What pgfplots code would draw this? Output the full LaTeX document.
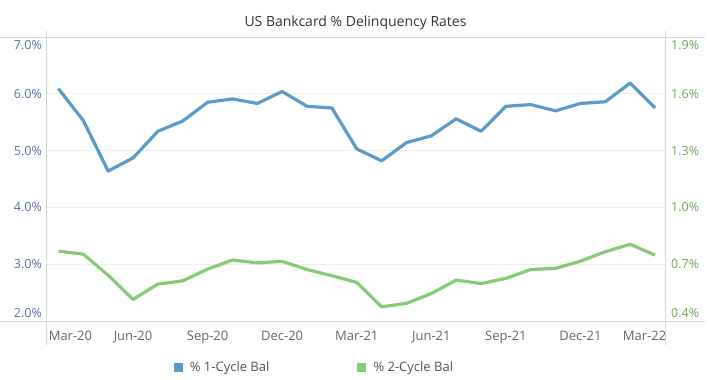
\documentclass[border=0pt]{standalone}
\usepackage{fontspec}
\setmainfont{Open Sans}
\usepackage{pgfplots}
\usepackage{pgfplotstable}
\pgfplotsset{compat=1.18}
\definecolor{oneC}{HTML}{5B9BC8}
\definecolor{twoC}{HTML}{86CC78}
\definecolor{leftT}{HTML}{5A6FA6}
\definecolor{rightT}{HTML}{6AA55A}
\definecolor{gridc}{HTML}{EDEDED}
\definecolor{axc}{HTML}{D6D6D6}
\definecolor{titc}{HTML}{333333}
\definecolor{tickc}{HTML}{666666}

\pgfplotstableread{
i one two
0 6.09 0.769
1 5.53 0.753
2 4.64 0.642
3 4.87 0.514
4 5.34 0.595
5 5.52 0.612
6 5.85 0.674
7 5.91 0.722
8 5.83 0.707
9 6.04 0.715
10 5.78 0.672
11 5.75 0.639
12 5.03 0.604
13 4.82 0.475
14 5.14 0.493
15 5.26 0.545
16 5.56 0.616
17 5.34 0.598
18 5.78 0.625
19 5.81 0.672
20 5.70 0.678
21 5.83 0.716
22 5.86 0.766
23 6.19 0.805
24 5.75 0.748
}\data

\begin{document}
\begin{tikzpicture}
\path[use as bounding box] (-46pt,-59pt) rectangle (664pt,321pt);
\pgfplotsset{
  common/.style={
    scale only axis, width=619pt, height=284pt,
    at={(0pt,0pt)}, anchor=south west,
    xmin=-0.5, xmax=24.4,
    major tick length=0pt,
    clip=false,
  }
}
\begin{axis}[common,
  ymin=2, ymax=7,
  axis line style={draw=none},
  ymajorgrids, grid style={gridc, line width=0.8pt},
  ytick={2,3,4,5,6,7},
  yticklabels={\raisebox{7.7pt}[0pt][0pt]{2.0\%},3.0\%,4.0\%,5.0\%,6.0\%,\raisebox{-8.4pt}[0pt][0pt]{7.0\%}},
  yticklabel style={anchor=base east, inner sep=0pt, xshift=-4pt, yshift=-4.5pt, color=leftT, font=\fontsize{12.5}{14}\selectfont},
  xtick={0,3,...,24},
  xticklabels={\hspace*{24pt}Mar-20,Jun-20,Sep-20,Dec-20,Mar-21,Jun-21,Sep-21,Dec-21,Mar-22\hspace*{21pt}},
  xticklabel style={anchor=base, inner sep=0pt, yshift=-19.5pt, color=tickc, font=\fontsize{13}{15}\selectfont},
  title={US Bankcard \% Delinquency Rates},
  title style={at={(0.5,1)}, anchor=base, yshift=5pt, color=titc, font=\fontsize{14}{16}\selectfont},
]
\draw[axc, line width=0.8pt] ([xshift=-46pt]rel axis cs:0,0) -- ([xshift=40pt]rel axis cs:1,0);
\draw[axc, line width=0.8pt] ([xshift=-46pt]rel axis cs:0,1) -- ([xshift=40pt]rel axis cs:1,1);
\draw[axc, line width=0.8pt] ([yshift=6pt]rel axis cs:0,1) -- ([yshift=-24pt]rel axis cs:0,0);
\draw[axc, line width=0.8pt] ([yshift=6pt]rel axis cs:1,1) -- ([yshift=-24pt]rel axis cs:1,0);
\addplot[oneC, line width=3.2pt, line join=round] table[x=i, y=one] {\data};
\end{axis}
\begin{axis}[common,
  ymin=0.4, ymax=1.9,
  axis line style={draw=none},
  axis y line*=right, axis x line=none,
  ytick={0.4,0.7,1.0,1.3,1.6,1.9},
  yticklabels={\raisebox{7.7pt}[0pt][0pt]{0.4\%},0.7\%,1.0\%,1.3\%,1.6\%,\raisebox{-8.4pt}[0pt][0pt]{1.9\%}},
  yticklabel style={anchor=base west, inner sep=0pt, xshift=6pt, yshift=-4.5pt, color=rightT, font=\fontsize{12.5}{14}\selectfont},
  legend style={at={(0.4305,-0.162)}, anchor=center, draw=none, fill=none,
    font=\fontsize{13}{15}\selectfont, text=tickc!80!black,
    legend columns=2, /tikz/every even column/.append style={column sep=81pt}},
  legend cell align=left,
  legend image code/.code={\draw[line width=9pt] (0pt,0pt) -- (9pt,0pt); \path (13pt,0pt);},
]
\addlegendimage{oneC}
\addlegendentry{\% 1-Cycle Bal}
\addplot[twoC, line width=3.2pt, line join=round] table[x=i, y=two] {\data};
\addlegendentry{\% 2-Cycle Bal}
\end{axis}
\end{tikzpicture}
\end{document}
